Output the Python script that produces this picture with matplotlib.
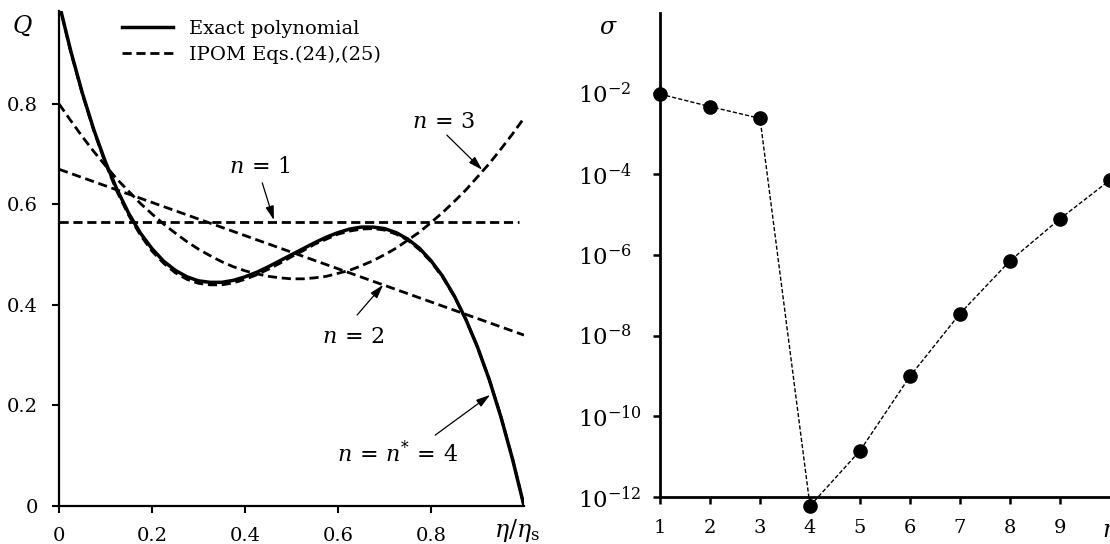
import matplotlib.pyplot as plt
from matplotlib.ticker import FixedLocator, NullLocator, LogFormatterMathtext

plt.rcParams['font.family'] = ['DejaVu Serif']
plt.rcParams['mathtext.fontset'] = 'dejavuserif'

# left panel: Q(eta/eta_s)
eta = [0.0, 0.025, 0.05, 0.075, 0.10, 0.125, 0.15, 0.175, 0.20, 0.225,
       0.25, 0.275, 0.30, 0.325, 0.35, 0.375, 0.40, 0.425, 0.45, 0.475,
       0.50, 0.525, 0.55, 0.575, 0.60, 0.625, 0.65, 0.675, 0.70, 0.725,
       0.75, 0.775, 0.80, 0.825, 0.85, 0.875, 0.90, 0.925, 0.95, 0.975, 1.0]
q_exact = [1.0, 0.906, 0.822, 0.748, 0.684, 0.629, 0.582, 0.543, 0.512, 0.487,
           0.469, 0.456, 0.448, 0.445, 0.445, 0.449, 0.456, 0.465, 0.476, 0.488,
           0.500, 0.512, 0.524, 0.535, 0.544, 0.551, 0.555, 0.555, 0.552, 0.544,
           0.531, 0.513, 0.488, 0.457, 0.418, 0.371, 0.316, 0.252, 0.178, 0.094, 0.0]
q_n4 = [1.0, 0.904, 0.820, 0.746, 0.681, 0.625, 0.578, 0.539, 0.507, 0.483,
        0.464, 0.451, 0.443, 0.440, 0.440, 0.444, 0.451, 0.460, 0.471, 0.483,
        0.496, 0.508, 0.521, 0.531, 0.541, 0.547, 0.551, 0.552, 0.549, 0.541,
        0.529, 0.510, 0.486, 0.455, 0.417, 0.371, 0.316, 0.252, 0.179, 0.095, 0.0]
q_n3 = [0.800, 0.767, 0.735, 0.705, 0.677, 0.650, 0.626, 0.602, 0.581, 0.561,
        0.543, 0.526, 0.511, 0.498, 0.486, 0.476, 0.468, 0.462, 0.457, 0.454,
        0.452, 0.452, 0.454, 0.457, 0.463, 0.469, 0.478, 0.488, 0.500, 0.513,
        0.529, 0.545, 0.564, 0.584, 0.606, 0.629, 0.655, 0.681, 0.710, 0.740, 0.772]
eta_n2 = [0.0, 1.0]
q_n2 = [0.670, 0.340]
eta_n1 = [0.0, 0.99]
q_n1 = [0.565, 0.565]

# right panel: sigma(n)
n_vals = [1, 2, 3, 4, 5, 6, 7, 8, 9, 10]
sigma = [9.6e-3, 4.7e-3, 2.4e-3, 6e-13, 1.4e-11, 9.8e-10, 3.5e-8, 7.1e-7, 7.8e-6, 7.1e-5]

fig = plt.figure(figsize=(11.1, 5.44), dpi=100)
ax1 = fig.add_axes([0.0532, 0.0699, 0.4189, 0.9099])
ax2 = fig.add_axes([0.5946, 0.0864, 0.4054, 0.8904])

dash = (0, (3.3, 1.7))
ax1.plot(eta, q_exact, color='k', lw=2.5, label='Exact polynomial')
ax1.plot(eta, q_n4, color='k', lw=2.0, ls=dash, label='IPOM Eqs.(24),(25)')
ax1.plot(eta, q_n3, color='k', lw=2.0, ls=dash)
ax1.plot(eta_n2, q_n2, color='k', lw=2.0, ls=dash)
ax1.plot(eta_n1, q_n1, color='k', lw=2.0, ls=dash)

ax1.set_xlim(0, 1)
ax1.set_ylim(0, 0.985)
ax1.set_xticks([0, 0.2, 0.4, 0.6, 0.8])
ax1.set_xticklabels(['0', '0.2', '0.4', '0.6', '0.8'])
ax1.set_yticks([0, 0.2, 0.4, 0.6, 0.8])
ax1.set_yticklabels(['0', '0.2', '0.4', '0.6', '0.8'])
ax1.tick_params(labelsize=14, length=5, width=1.5, direction='out', pad=10)
for s in ['top', 'right']:
    ax1.spines[s].set_visible(False)
for s in ['left', 'bottom']:
    ax1.spines[s].set_linewidth(1.6)

ax1.text(-0.08, 0.955, r'$Q$', fontsize=17, ha='center', va='center')
ax1.text(0.985, -0.022, r'$\eta/\eta_{\mathrm{s}}$', fontsize=17, ha='center', va='top')

arrow = dict(arrowstyle='-|>,head_length=0.6,head_width=0.18', color='k', lw=0.9,
             mutation_scale=14, shrinkA=0, shrinkB=0)
ax1.annotate('', xy=(0.462, 0.569), xytext=(0.437, 0.643), arrowprops=arrow)
ax1.annotate('', xy=(0.697, 0.440), xytext=(0.641, 0.380), arrowprops=arrow)
ax1.annotate('', xy=(0.910, 0.669), xytext=(0.834, 0.738), arrowprops=arrow)
ax1.annotate('', xy=(0.927, 0.221), xytext=(0.809, 0.141), arrowprops=arrow)
ax1.text(0.432, 0.675, r'$n\,=\,1$', fontsize=16, ha='center', va='center')
ax1.text(0.632, 0.336, r'$n\,=\,2$', fontsize=16, ha='center', va='center')
ax1.text(0.826, 0.764, r'$n\,=\,3$', fontsize=16, ha='center', va='center')
ax1.text(0.729, 0.105, r'$n\,=\,n^{*}\,=\,4$', fontsize=16, ha='center', va='center')

ax1.legend(loc='upper left', bbox_to_anchor=(122 / 1110, 1 - 20 / 544),
           bbox_transform=fig.transFigure, frameon=False, fontsize=14,
           handlelength=2.6, handletextpad=0.85, labelspacing=0.4,
           borderpad=0, borderaxespad=0)

ax2.plot(n_vals, sigma, color='k', lw=1.0, ls=(0, (3, 1.5)), marker='o', ms=9.5,
         clip_on=False)
ax2.set_yscale('log')
ax2.set_xlim(1, 10)
ax2.set_ylim(1e-12, 1)
ax2.set_xticks([1, 2, 3, 4, 5, 6, 7, 8, 9])
ax2.yaxis.set_major_locator(FixedLocator([1e-12, 1e-10, 1e-8, 1e-6, 1e-4, 1e-2]))
ax2.yaxis.set_minor_locator(NullLocator())
ax2.yaxis.set_major_formatter(LogFormatterMathtext())
ax2.tick_params(axis='x', labelsize=14, length=5, width=1.8, direction='out', pad=11)
ax2.tick_params(axis='y', labelsize=16.5, length=5, width=1.8, direction='out', pad=54)
for lab in ax2.get_yticklabels():
    lab.set_horizontalalignment('left')
for s in ['top', 'right']:
    ax2.spines[s].set_visible(False)
for s in ['left', 'bottom']:
    ax2.spines[s].set_linewidth(2.0)

ax2.text(-0.115, 0.97, r'$\sigma$', transform=ax2.transAxes, fontsize=17,
         ha='center', va='center')
ax2.text(10, 10 ** -12.55, r'$n$', fontsize=17, ha='center', va='top', clip_on=False)

fig.savefig('out.png', dpi=100)
